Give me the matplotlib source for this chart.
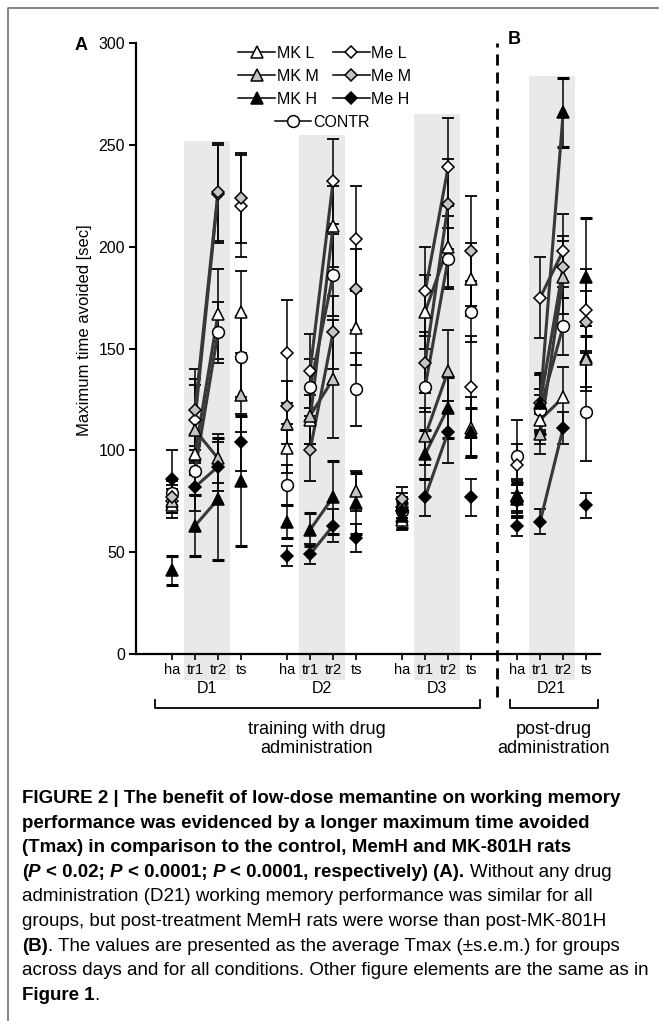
import matplotlib.pyplot as plt
from matplotlib.lines import Line2D
import matplotlib.transforms as mtransforms

plt.rcParams['font.family'] = ['Liberation Sans', 'DejaVu Sans']

days = ['D1', 'D2', 'D3', 'D21']
phases = ['ha', 'tr1', 'tr2', 'ts']
day_start = [0, 5, 10, 15]

# mean Tmax [sec], order per day: ha, tr1, tr2, ts
mk_l = [73, 98, 167, 168, 101, 115, 210, 160, 66, 168, 200, 184, 78, 115, 126, 146]
mk_m = [75, 110, 96, 127, 113, 117, 135, 80, 73, 107, 139, 111, 77, 108, 185, 145]
mk_h = [41, 63, 76, 85, 65, 61, 77, 74, 68, 98, 121, 109, 76, 123, 266, 185]
me_l = [75, 115, 226, 220, 148, 139, 232, 204, 72, 178, 239, 131, 93, 175, 198, 169]
me_m = [77, 120, 227, 224, 122, 100, 158, 179, 76, 143, 221, 198, 75, 123, 190, 163]
me_h = [86, 82, 92, 104, 48, 49, 63, 57, 70, 77, 109, 77, 63, 65, 111, 73]
contr = [79, 90, 158, 146, 83, 131, 186, 130, 70, 131, 194, 168, 97, 120, 161, 119]

# s.e.m.
mk_l_err = [6, 10, 22, 20, 12, 12, 20, 18, 5, 18, 20, 18, 8, 12, 15, 15]
mk_m_err = [6, 22, 12, 18, 10, 14, 29, 10, 6, 14, 20, 15, 8, 10, 18, 16]
mk_h_err = [7, 15, 30, 32, 8, 8, 18, 15, 6, 12, 15, 12, 8, 15, 17, 29]
me_l_err = [6, 20, 24, 25, 26, 18, 21, 26, 5, 22, 24, 25, 10, 20, 18, 20]
me_m_err = [6, 20, 24, 22, 12, 15, 18, 20, 6, 15, 22, 27, 8, 14, 15, 15]
me_h_err = [14, 12, 12, 14, 5, 5, 8, 7, 6, 9, 15, 9, 5, 6, 8, 6]
contr_err = [6, 12, 15, 20, 10, 14, 20, 18, 5, 12, 15, 15, 18, 10, 14, 24]

shade_tops = [252, 255, 265, 284]

series = [
    ('CONTR', contr, contr_err, 'o', 'white', 8.5),
    ('Me L', me_l, me_l_err, 'D', 'white', 6.3),
    ('MK L', mk_l, mk_l_err, '^', 'white', 9),
    ('MK M', mk_m, mk_m_err, '^', '#c4c4c4', 9),
    ('Me M', me_m, me_m_err, 'D', '#c4c4c4', 6.3),
    ('MK H', mk_h, mk_h_err, '^', 'black', 9),
    ('Me H', me_h, me_h_err, 'D', 'black', 6.3),
]

W, H = 659, 1021
fig = plt.figure(figsize=(W / 100, H / 100), dpi=100)
ax = fig.add_axes([136 / W, 1 - 654 / H, 464 / W, 611 / H])

xs = [d + p for d in day_start for p in range(4)]

# grey training boxes
for d, top in zip(day_start, shade_tops):
    ax.bar(d + 1.5, top + 13, bottom=-13, width=2.0, color='#e9e9e9',
           clip_on=False, zorder=0)

for i, (name, vals, errs, m, fc, ms) in enumerate(series):
    ct = 2.2 if name == 'MK H' else 1.3
    ax.errorbar(xs, vals, yerr=errs, fmt='none', ecolor='black', elinewidth=1.1,
                capsize=4.3, capthick=ct, zorder=1.5)
    for k in range(4):
        ax.plot([xs[4 * k + 1], xs[4 * k + 2]], [vals[4 * k + 1], vals[4 * k + 2]],
                color='#383838', lw=2.2, zorder=2, solid_capstyle='round')
    ax.plot(xs, vals, ls='none', marker=m, mfc=fc, mec='black', mew=1.1, ms=ms,
            zorder=3 + i * 0.1)

ax.set_xlim(-1.565, 18.6)
ax.set_ylim(0, 300)
ax.spines['top'].set_visible(False)
ax.spines['right'].set_visible(False)
for s in ['left', 'bottom']:
    ax.spines[s].set_linewidth(1.6)
ax.set_yticks([0, 50, 100, 150, 200, 250, 300])
ax.tick_params(axis='y', labelsize=11.5, length=5, width=1.4, pad=3)
ax.set_xticks(xs)
ax.set_xticklabels([])
ax.tick_params(axis='x', length=4, width=1.2, direction='out')
ax.set_ylabel('Maximum time avoided [sec]', fontsize=12)
ax.yaxis.set_label_coords(-0.095, 0.53)

trans = mtransforms.blended_transform_factory(ax.transData, ax.transAxes)
for d, day in zip(day_start, days):
    for p, ph in enumerate(phases):
        ax.text(d + p, -0.027, ph, transform=trans, ha='center', va='center',
                fontsize=10.5)
    ax.text(d + 1.5, -0.057, day, transform=trans, ha='center', va='center',
            fontsize=11.5)

# dashed separator
ax.plot([14.13, 14.13], [-0.07, 1.0], transform=trans, color='black', lw=2,
        ls=(0, (4, 2.5)), clip_on=False)

# brackets
def bracket(x0, x1, y=-0.088, h=0.012):
    ax.plot([x0, x0, x1, x1], [y + h, y, y, y + h], transform=trans,
            color='black', lw=1.3, clip_on=False)

bracket(-0.74, 13.4)
bracket(14.7, 18.5)
ax.text(6.3, -0.139, 'training with drug\nadministration', transform=trans,
        ha='center', va='center', fontsize=13, linespacing=1.2)
ax.text(16.6, -0.139, 'post-drug\nadministration', transform=trans,
        ha='center', va='center', fontsize=13, linespacing=1.2)

fig.text(75 / W, 1 - 45 / H, 'A', fontsize=13, weight='bold', va='center')
fig.text(508 / W, 1 - 40 / H, 'B', fontsize=13, weight='bold', va='center')

# legends
sty = {s[0]: s for s in series}
def handle(name):
    _, _, _, m, fc, ms = sty[name]
    return Line2D([], [], color='black', lw=1.1, marker=m, mfc=fc, mec='black',
                  mew=1.1, ms=ms)

names1 = ['MK L', 'MK M', 'MK H', 'Me L', 'Me M', 'Me H']
leg1 = fig.legend([handle(n) for n in names1], names1, ncol=2, loc='upper center',
                  bbox_to_anchor=(325 / W, 1 - 38 / H), frameon=False, fontsize=11.5,
                  handlelength=2.3, handletextpad=0.1, columnspacing=0.9,
                  labelspacing=0.5, borderpad=0)
leg2 = fig.legend([handle('CONTR')], ['CONTR'], loc='upper center',
                  bbox_to_anchor=(322 / W, 1 - 107 / H), frameon=False, fontsize=11.5,
                  handlelength=2.3, handletextpad=0.1, borderpad=0)

# frame lines top/left
fig.add_artist(Line2D([8 / W, 8 / W, 1], [0, 1 - 8 / H, 1 - 8 / H],
                      transform=fig.transFigure, color='#707070', lw=1.2))

# caption
cap_font = ['Liberation Sans Narrow', 'Liberation Sans']
B, R, BI = ('bold', 'normal'), ('normal', 'normal'), ('bold', 'italic')
caption = [
    [('FIGURE 2 | The benefit of low-dose memantine on working memory', B)],
    [('performance was evidenced by a longer maximum time avoided', B)],
    [('(Tmax) in comparison to the control, MemH and MK-801H rats', B)],
    [('(', B), ('P', BI), (' < 0.02; ', B), ('P', BI), (' < 0.0001; ', B), ('P', BI),
     (' < 0.0001, respectively) (A). ', B), ('Without any drug', R)],
    [('administration (D21) working memory performance was similar for all', R)],
    [('groups, but post-treatment MemH rats were worse than post-MK-801H', R)],
    [('(B)', B), ('. The values are presented as the average Tmax (\u00b1s.e.m.) for groups', R)],
    [('across days and for all conditions. Other figure elements are the same as in', R)],
    [('Figure 1', B), ('.', R)],
]

r = fig.canvas.get_renderer()

def width_of(s, size, st):
    t = fig.text(0, 0, s, fontsize=size, weight=st[0], style=st[1], family=cap_font)
    w = t.get_window_extent(renderer=r).width
    t.remove()
    return w

w0 = width_of(caption[0][0][0], 10, B)
cap_size = 10 * 600 / w0

def space_w(st):
    return width_of('x x', cap_size, st) - width_of('xx', cap_size, st)

for li, runs in enumerate(caption):
    x = 22
    y = 803 + li * 24.6
    for s, st in runs:
        lead = len(s) - len(s.lstrip(' '))
        trail = len(s) - len(s.rstrip(' '))
        x += lead * space_w(st)
        t = fig.text(x / W, 1 - y / H, s.strip(' '), fontsize=cap_size, weight=st[0],
                     style=st[1], family=cap_font, va='baseline')
        x = t.get_window_extent(renderer=r).x1 + trail * space_w(st)

fig.savefig('out.png', dpi=100)
